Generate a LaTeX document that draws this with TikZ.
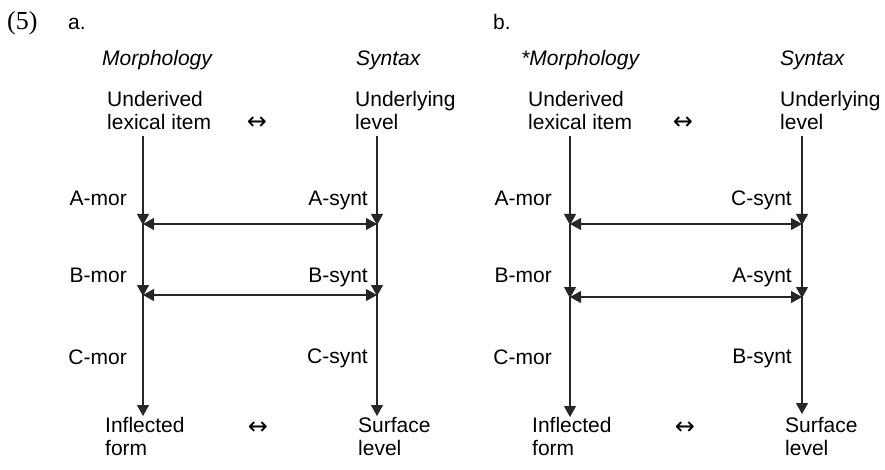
\documentclass[tikz,border=0pt]{standalone}
\usepackage{fontspec}
\setmainfont{Liberation Sans}
\newfontfamily\exnumfont{Liberation Serif}
\newfontfamily\symfont{DejaVu Sans}
\usetikzlibrary{arrows.meta}

\begin{document}
\begin{tikzpicture}[x=1pt,y=-1pt,
  txt/.style={inner sep=0pt, font=\fontsize{21}{23}\selectfont},
  lft/.style={txt, anchor=base west},
  rgt/.style={txt, anchor=base east},
  ttl/.style={lft, font=\fontsize{21}{23}\selectfont\itshape},
  pair/.style={txt, anchor=north west, align=left},
  eqv/.style={inner sep=0pt, anchor=center, font=\symfont\fontsize{24}{24}\selectfont},
  flow/.style={line width=1.2pt, draw=black!85, -{Triangle[width=12pt,length=11pt]}},
  link/.style={line width=1.2pt, draw=black!85,
    {Triangle[width=12pt,length=11pt]}-{Triangle[width=12pt,length=11pt]}},
]
\useasboundingbox (0,0) rectangle (885,470);

% example number and sub-labels
\node[lft, font=\exnumfont\fontsize{26}{26}\selectfont] (num) at (7,30) {(5)};
\node[lft] (suba) at (68,30) {a.};
\node[lft] (subb) at (493,30) {b.};

% ---------- (a) ----------
\node[ttl] (aMh) at (102,66) {Morphology};
\node[ttl] (aSh) at (356,66) {Syntax};
\node[pair] (aTopL) at (107,91) {Underived\\lexical item};
\node[pair] (aTopR) at (355,91) {Underlying\\level};
\node[eqv] (aTopEq) at (257,123) {↔};
\node[pair] (aBotL) at (105,417) {Inflected\\form};
\node[pair] (aBotR) at (358,417) {Surface\\level};
\node[eqv] (aBotEq) at (258,428) {↔};

\node[rgt] (aAm) at (127,206) {A-mor};
\node[rgt] (aAs) at (368,206) {A-synt};
\node[rgt] (aBm) at (127,282) {B-mor};
\node[rgt] (aBs) at (368,282) {B-synt};
\node[rgt] (aCm) at (127,364) {C-mor};
\node[rgt] (aCs) at (368,363) {C-synt};

\coordinate (aL0) at (143,136);
\coordinate (aL1) at (143,224);
\coordinate (aL2) at (143,295);
\coordinate (aL3) at (143,416);
\coordinate (aR0) at (377,136);
\coordinate (aR1) at (377,224);
\coordinate (aR2) at (377,295);
\coordinate (aR3) at (377,416);

\draw[flow] (aL0) -- ([yshift=-1pt]aL1);
\draw[flow] ([yshift=1pt]aL1) -- ([yshift=-1pt]aL2);
\draw[flow] ([yshift=1pt]aL2) -- (aL3);
\draw[flow] (aR0) -- ([yshift=-1pt]aR1);
\draw[flow] ([yshift=1pt]aR1) -- ([yshift=-1pt]aR2);
\draw[flow] ([yshift=1pt]aR2) -- (aR3);
\draw[link] (aL1) -- (aR1);
\draw[link] (aL2) -- (aR2);

% ---------- (b) ----------
\node[ttl] (bMh) at (521,66) {*Morphology};
\node[ttl] (bSh) at (780,66) {Syntax};
\node[pair] (bTopL) at (528,91) {Underived\\lexical item};
\node[pair] (bTopR) at (780,91) {Underlying\\level};
\node[eqv] (bTopEq) at (683,123) {↔};
\node[pair] (bBotL) at (532,417) {Inflected\\form};
\node[pair] (bBotR) at (785,417) {Surface\\level};
\node[eqv] (bBotEq) at (685,428) {↔};

\node[rgt] (bAm) at (552,206) {A-mor};
\node[rgt] (bCs) at (792,206) {C-synt};
\node[rgt] (bBm) at (552,282) {B-mor};
\node[rgt] (bAs) at (792,282) {A-synt};
\node[rgt] (bCm) at (552,364) {C-mor};
\node[rgt] (bBs) at (792,363) {B-synt};

\coordinate (bL0) at (570,136);
\coordinate (bL1) at (570,224);
\coordinate (bL2) at (570,297);
\coordinate (bL3) at (570,417);
\coordinate (bR0) at (802,136);
\coordinate (bR1) at (802,224);
\coordinate (bR2) at (802,297);
\coordinate (bR3) at (802,414);

\draw[flow] (bL0) -- ([yshift=-1pt]bL1);
\draw[flow] ([yshift=1pt]bL1) -- ([yshift=-1pt]bL2);
\draw[flow] ([yshift=1pt]bL2) -- (bL3);
\draw[flow] (bR0) -- ([yshift=-1pt]bR1);
\draw[flow] ([yshift=1pt]bR1) -- ([yshift=-1pt]bR2);
\draw[flow] ([yshift=1pt]bR2) -- (bR3);
\draw[link] (bL1) -- (bR1);
\draw[link] (bL2) -- (bR2);
\end{tikzpicture}
\end{document}
